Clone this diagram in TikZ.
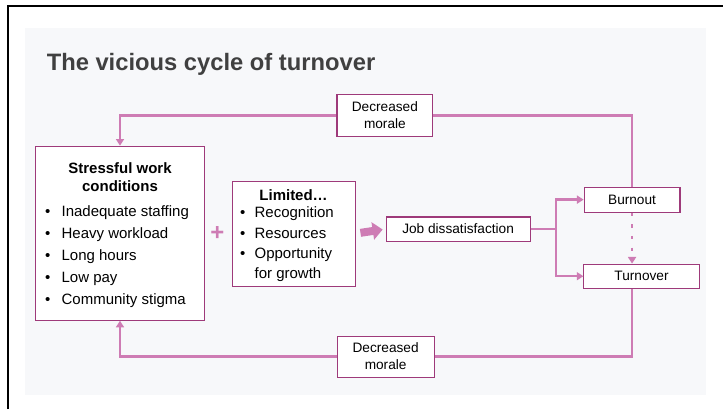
\documentclass[tikz,border=0pt]{standalone}
\usepackage{fontspec}
\setmainfont{Liberation Sans}
\usepackage{tikz}
\usetikzlibrary{arrows.meta,positioning,calc}
\definecolor{figpanel}{RGB}{247,248,250}
\definecolor{figpink}{RGB}{206,124,180}
\definecolor{figplum}{RGB}{158,58,122}
\definecolor{figheading}{RGB}{64,64,64}
\tikzset{
  smallbox/.style={draw=figplum, line width=0.8pt, fill=white, inner sep=0pt, align=center, font=\fontsize{10.3}{12.8}\selectfont},
  listbox/.style={draw=figplum, line width=0.8pt, fill=white, inner sep=0pt, align=center, font=\fontsize{11.3}{13.5}\selectfont},
  link/.style={draw=figpink, line width=1.8pt},
  line/.style={-{Triangle[length=5pt,width=6pt]}, draw=figpink, line width=1.8pt},
  dotline/.style={line, dash pattern=on 2.5pt off 6.3pt},
  fatarrow/.style={-{Triangle[length=7.5pt,width=13pt]}, draw=figpink, line width=6pt},
  figtitle/.style={font=\fontsize{17.9}{20}\selectfont\bfseries, text=figheading}
}

\begin{document}
\begin{tikzpicture}[x=1cm,y=1cm]
  \useasboundingbox (0,0) rectangle (19.16,10.84);
  \fill[figpanel] (0.66,0.37) rectangle (18.71,10.10);
  \draw[line width=1.5pt] (0.21,0) -- (0.21,10.68) -- (19.16,10.68);

  \node[figtitle, anchor=base west] (title) at (1.115,8.98) {The vicious cycle of turnover};

  % causes
  \node[listbox, minimum width=4.5cm, minimum height=4.61cm] (stress) at (3.18,4.66) {%
    \rule{0pt}{14.1pt}\textbf{Stressful work}\\\textbf{conditions}\\[5.3pt]
    \renewcommand{\arraystretch}{1.225}%
    \begin{tabular}[t]{@{}l@{\hspace{8.5pt}}l@{}}
      \textbullet & Inadequate staffing\\
      \textbullet & Heavy workload\\
      \textbullet & Long hours\\
      \textbullet & Low pay\\
      \textbullet & Community stigma
    \end{tabular}\hspace*{4.5pt}};
  \node[text=figpink, font=\fontsize{18}{18}\selectfont\bfseries] (plus) at (5.76,4.66) {+};
  \node[listbox, minimum width=3.26cm, minimum height=2.78cm] (limited) at (7.78,4.65) {%
    \rule{0pt}{14pt}\textbf{Limited…}\\[-0.7pt]
    \renewcommand{\arraystretch}{1.13}%
    \begin{tabular}[t]{@{}l@{\hspace{7pt}}l@{}}
      \textbullet & Recognition\\
      \textbullet & Resources\\
      \textbullet & Opportunity\\
                  & for growth
    \end{tabular}\hspace*{10pt}};

  % outcomes
  \node[smallbox, minimum width=3.82cm, minimum height=0.64cm] (job) at (12.14,4.77) {Job dissatisfaction};
  \node[smallbox, minimum width=2.54cm, minimum height=0.66cm] (burnout) at (16.75,5.55) {Burnout};
  \node[smallbox, minimum width=3.05cm, minimum height=0.64cm] (turnover) at (17.0,3.52) {Turnover};
  \node[smallbox, minimum width=2.54cm, minimum height=1.09cm] (moraletop) at (10.20,7.78) {Decreased\\morale};
  \node[smallbox, minimum width=2.57cm, minimum height=1.09cm] (moralebot) at (10.22,1.39) {Decreased\\morale};

  \coordinate (split) at (14.73,4.77);

  \draw[fatarrow, shorten <=3.7pt, shorten >=2.2pt] (limited.east) -- (job.west);
  \draw[link] (job.east) -- (split);
  \draw[line] (split) |- (burnout.west);
  \draw[line] (split) |- (turnover.west);
  \draw[dotline] (burnout.south) -- (burnout.south |- turnover.north);

  % feedback loops
  \draw[link] (burnout.north) |- (moraletop.east);
  \draw[line] (moraletop.west) -| (stress.north);
  \draw[link] (turnover.south -| burnout.south) |- (moralebot.east);
  \draw[line] (moralebot.west) -| (stress.south);
\end{tikzpicture}
\end{document}
